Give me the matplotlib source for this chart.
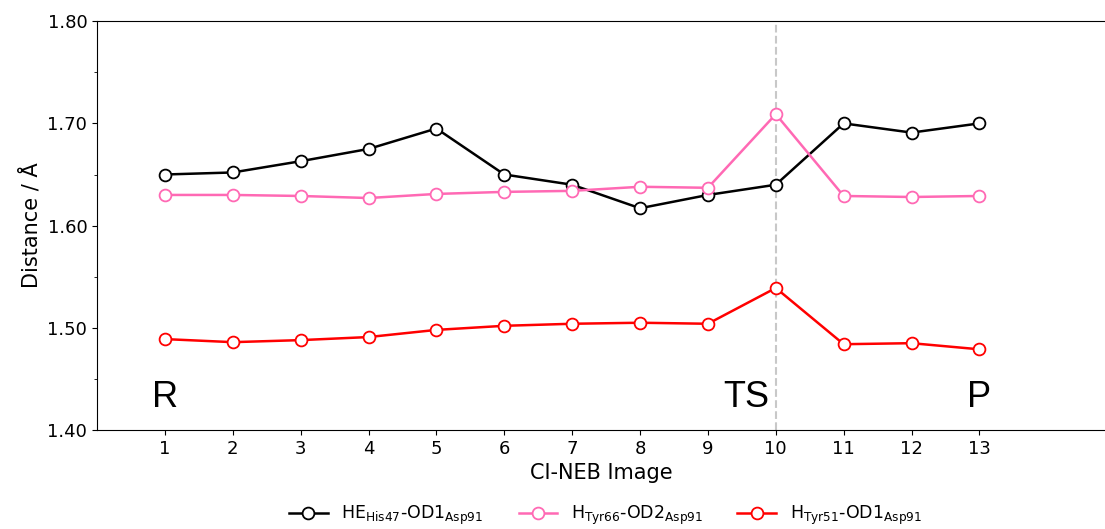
import matplotlib.pyplot as plt
import numpy as np

images = np.arange(1, 14)
he_his47 = [1.650, 1.652, 1.663, 1.675, 1.695, 1.650, 1.640, 1.617, 1.630, 1.640, 1.700, 1.691, 1.700]
h_tyr66 = [1.630, 1.630, 1.629, 1.627, 1.631, 1.633, 1.634, 1.638, 1.637, 1.709, 1.629, 1.628, 1.629]
h_tyr51 = [1.489, 1.486, 1.488, 1.491, 1.498, 1.502, 1.504, 1.505, 1.504, 1.539, 1.484, 1.485, 1.479]

labels = [r'HE$_{\mathrm{His47}}$-OD1$_{\mathrm{Asp91}}$',
          r'H$_{\mathrm{Tyr66}}$-OD2$_{\mathrm{Asp91}}$',
          r'H$_{\mathrm{Tyr51}}$-OD1$_{\mathrm{Asp91}}$']
colors = ['black', '#ff69b4', 'red']
ts_image = 10

fig = plt.figure(figsize=(11.05, 5.29), dpi=100)
ax = fig.add_axes([0.0878, 0.187, 0.9122, 0.773])

for vals, lab, c in zip([he_his47, h_tyr66, h_tyr51], labels, colors):
    ax.plot(images, vals, color=c, lw=1.8, marker='o', markersize=8.5,
            markerfacecolor='white', markeredgecolor=c, markeredgewidth=1.3, label=lab)

ax.axvline(ts_image, color='#c8c8c8', ls='--', lw=1.5, zorder=0)

ax.set_xlim(0, 14.85)
ax.set_ylim(1.40, 1.80)
ax.set_xticks(images)
ax.set_yticks([1.40, 1.50, 1.60, 1.70, 1.80])
ax.set_yticks([1.45, 1.55, 1.65, 1.75], minor=True)
ax.set_yticklabels(['%.2f' % v for v in [1.40, 1.50, 1.60, 1.70, 1.80]])
ax.tick_params(labelsize=13)
ax.spines['right'].set_visible(False)

ax.set_xlabel('CI-NEB Image', fontsize=15)
ax.set_ylabel('Distance / Å', fontsize=15)

for x, t in [(1, 'R'), (10, 'TS'), (13, 'P')]:
    ha = 'right' if t == 'TS' else 'center'
    xx = x - 0.1 if t == 'TS' else x
    ax.text(xx, 1.432, t, fontsize=26, family='Liberation Sans', ha=ha, va='center')

fig.legend(loc='center', bbox_to_anchor=(0.548, 0.025), ncol=3, frameon=False,
           fontsize=12.5, columnspacing=2.0, handlelength=2.2)

fig.savefig('out.png', dpi=100)
